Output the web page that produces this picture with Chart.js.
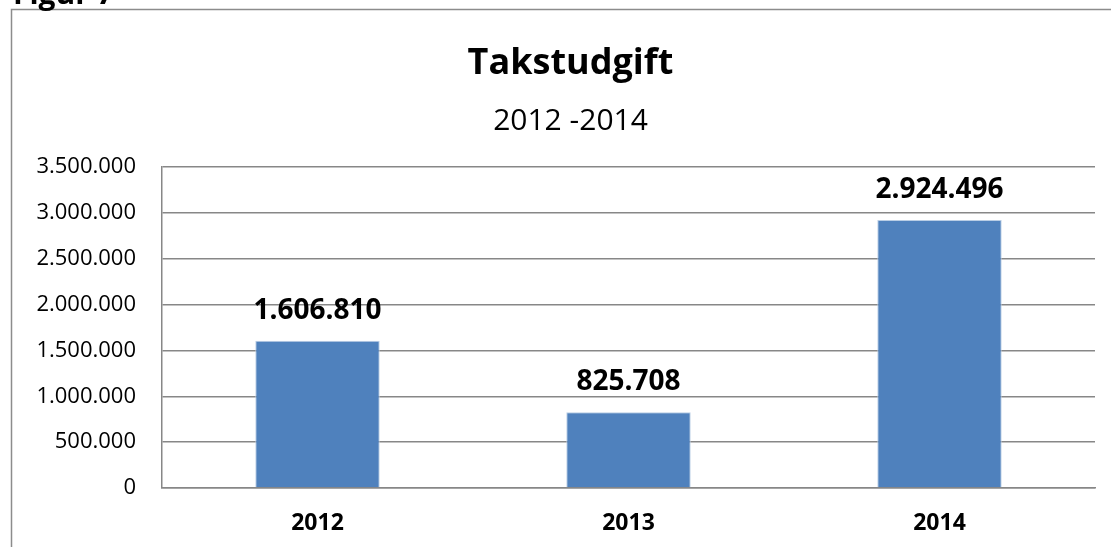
<!DOCTYPE html>
<html>
<head>
<meta charset="utf-8">
<script src="https://cdn.jsdelivr.net/npm/chart.js@4"></script>
<style>
  html, body { margin: 0; padding: 0; background: #fff; }
  #wrap { width: 1111px; height: 547px; position: relative; }
</style>
</head>
<body>
<div id="wrap"><canvas id="myChart"></canvas></div>
<script>
const years = ['2012', '2013', '2014'];
const udgift = [1606810, 825708, 2924496];
const yMax = 3500000;
const yStep = 500000;

const fontName = '"Open Sans", "Noto Sans", sans-serif';

// danish thousands separator: 1.606.810
function dk(v) {
    return String(Math.round(v)).replace(/\B(?=(\d{3})+(?!\d))/g, '.');
}

// outer frame, "Figur 7" heading and value labels above the bars
const extras = {
    id: 'extras',
    beforeDraw(chart) {
        const c = chart.ctx;
        c.save();
        c.strokeStyle = '#8c8c8c';
        c.lineWidth = 1.5;
        c.beginPath();
        c.moveTo(11.5, chart.height + 5);
        c.lineTo(11.5, 9.5);
        c.lineTo(chart.width + 5, 9.5);
        c.stroke();
        c.fillStyle = '#000';
        c.font = 'bold 30px ' + fontName;
        c.textBaseline = 'alphabetic';
        c.fillText('Figur 7', 13, 4);
        c.restore();
    },
    afterDatasetsDraw(chart) {
        const c = chart.ctx;
        const meta = chart.getDatasetMeta(0);
        c.save();
        c.fillStyle = '#000';
        c.font = 'bold 28px ' + fontName;
        c.textAlign = 'center';
        c.textBaseline = 'alphabetic';
        meta.data.forEach((bar, i) => {
            c.fillText(dk(udgift[i]), bar.x, bar.y - 22);
        });
        c.restore();
    }
};

const graph = document.getElementById('myChart');

new Chart(graph, {
    type: 'bar',
    data: {
        labels: years,
        datasets: [{
            label: 'Takstudgift',
            data: udgift,
            backgroundColor: '#4f81bd',
            borderColor: '#b9cde5',
            borderWidth: 1,
            barPercentage: 0.4,
            categoryPercentage: 1
        }]
    },
    options: {
        responsive: true,
        maintainAspectRatio: false,
        animation: false,
        layout: {
            padding: { top: 18, left: 30, right: 0, bottom: 10 }
        },
        plugins: {
            legend: { display: false },
            tooltip: { enabled: false },
            title: {
                display: true,
                text: 'Takstudgift',
                color: '#000',
                font: { size: 36, weight: 'bold', family: fontName },
                padding: { top: 24, bottom: 0 }
            },
            subtitle: {
                display: true,
                text: '2012 -2014',
                color: '#000',
                font: { size: 30, family: fontName },
                padding: { top: 18, bottom: 28 }
            }
        },
        scales: {
            y: {
                min: 0,
                max: yMax,
                ticks: {
                    stepSize: yStep,
                    color: '#000',
                    padding: 26,
                    font: { size: 22, family: fontName },
                    callback: v => dk(v)
                },
                grid: {
                    color: '#878787',
                    lineWidth: 1.5,
                    drawTicks: false
                },
                border: { color: '#878787', width: 1.5 },
                afterFit(scale) { scale.width = 132; }
            },
            // empty strip on the right so the plot ends where the reference does
            yr: {
                position: 'right',
                min: 0,
                max: yMax,
                ticks: { display: false },
                grid: { display: false, drawTicks: false },
                border: { display: false },
                afterFit(scale) { scale.width = 16; }
            },
            x: {
                ticks: {
                    color: '#000',
                    padding: 22,
                    font: { size: 23, weight: 'bold', family: fontName }
                },
                grid: { display: false, drawTicks: false },
                border: { color: '#878787', width: 1.5 },
                afterFit(scale) { scale.height = 49; }
            }
        }
    },
    plugins: [extras]
});
</script>
</body>
</html>
